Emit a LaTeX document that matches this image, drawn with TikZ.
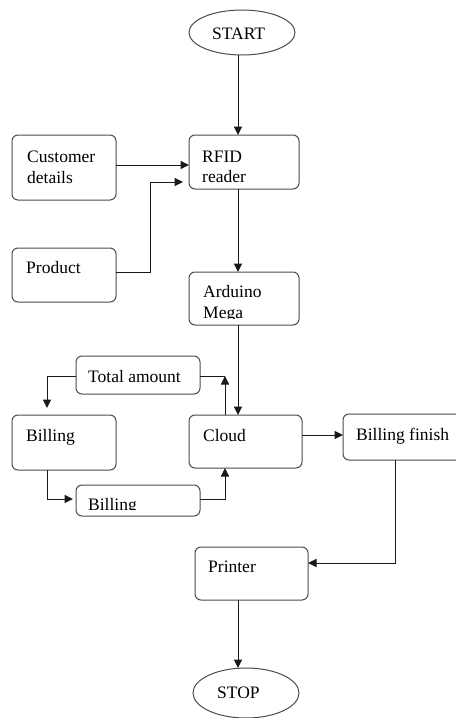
\documentclass[tikz,border=0pt]{standalone}
\usepackage{fontspec}
\setmainfont{Liberation Serif}
\usetikzlibrary{arrows.meta,shapes.geometric}
\begin{document}
\begin{tikzpicture}[x=1pt,y=-1pt,
  box/.style={draw=black!70, line width=1pt, rounded corners=6pt, anchor=north west, inner sep=0pt, outer sep=0pt},
  oval/.style={draw=black!70, line width=1pt, ellipse, inner sep=0pt, outer sep=0pt},
  lbl/.style={anchor=base west, inner sep=0pt, text=black, font=\fontsize{17.5}{21}\selectfont},
  conn/.style={line width=1pt, draw=black!90},
  arr/.style={conn, -{Triangle[length=8.5pt,width=8pt]}}]
\clip (0,0) rectangle (456,718);
\fill[white] (0,0) rectangle (456,718);
% shapes
\node[oval, minimum width=106pt, minimum height=45pt] (start) at (242,32.5) {};
\node[box, minimum width=104pt, minimum height=65pt] (customer) at (12,135) {};
\node[box, minimum width=110pt, minimum height=54pt] (rfid) at (189,135) {};
\node[box, minimum width=104pt, minimum height=54pt] (product) at (12,248) {};
\node[box, minimum width=110pt, minimum height=53pt] (arduino) at (189,272) {};
\node[box, minimum width=124pt, minimum height=38pt] (total) at (76,356) {};
\node[box, minimum width=104pt, minimum height=55pt] (billing) at (12,415) {};
\node[box, minimum width=113pt, minimum height=53pt] (cloud) at (189,415) {};
\node[box, minimum width=124pt, minimum height=31pt] (billingb) at (76,485) {};
\node[box, minimum width=127pt, minimum height=46pt] (finish) at (343,414) {};
\node[box, minimum width=113pt, minimum height=53pt] (printer) at (195,547) {};
\node[oval, minimum width=106pt, minimum height=50pt] (stop) at (246,693) {};
% labels
\node[lbl] (tstart) at (212,39) {START};
\node[lbl] (tcust1) at (27,162) {Customer};
\node[lbl] (tcust2) at (27,183) {details};
\node[lbl] (trfid1) at (202,162) {RFID};
\node[lbl] (trfid2) at (202,182) {reader};
\node[lbl] (tprod) at (26,273) {Product};
\node[lbl] (tard1) at (203,297) {Arduino};
\begin{scope}
\clip (189,300) rectangle (299,318);
\node[lbl] (tard2) at (203,318) {Mega};
\end{scope}
\node[lbl] (ttotal) at (88,382) {Total amount};
\node[lbl] (tbill) at (26,441) {Billing};
\node[lbl] (tcloud) at (203,441) {Cloud};
\node[lbl] (tfinish) at (356,440) {Billing finish};
\begin{scope}
\clip (76,488) rectangle (200,509);
\node[lbl] (tbill2) at (88,510) {Billing};
\end{scope}
\node[lbl] (tprint) at (208,572) {Printer};
\node[lbl] (tstop) at (217,698) {STOP};
% helper coordinates
\coordinate (xa) at (238,0);
\coordinate (xb) at (225,0);
\coordinate (xc) at (150,0);
\coordinate (xd) at (47,0);
\coordinate (xe) at (395,0);
\coordinate (ya) at (0,165);
\coordinate (yb) at (0,182);
\coordinate (yc) at (0,272);
\coordinate (yd) at (0,376);
\coordinate (ye) at (0,499);
\coordinate (yf) at (0,435);
\coordinate (yg) at (0,563);
% connectors
\draw[arr] (start.south -| xa) -- (rfid.north -| xa);
\draw[arr] (customer.east |- ya) -- (rfid.west |- ya);
\draw[arr, shorten >=6pt] (product.east |- yc) -| (xc |- yb) -- (rfid.west |- yb);
\draw[arr] (rfid.south -| xa) -- (arduino.north -| xa);
\draw[arr] (arduino.south -| xa) -- (cloud.north -| xa);
\draw[arr] (cloud.north -| xb) -- (xb |- yd);
\draw[conn] (total.east |- yd) -- (xb |- yd);
\draw[arr, shorten >=7pt] (total.west |- yd) -| (billing.north -| xd);
\draw[arr, shorten >=3pt] (billing.south -| xd) |- (billingb.west |- ye);
\draw[arr] (billingb.east |- ye) -| (cloud.south -| xb);
\draw[arr] (cloud.east |- yf) -- (finish.west |- yf);
\draw[arr] (finish.south -| xe) |- (printer.east |- yg);
\draw[arr] (printer.south -| xa) -- (stop.north -| xa);
\end{tikzpicture}
\end{document}
